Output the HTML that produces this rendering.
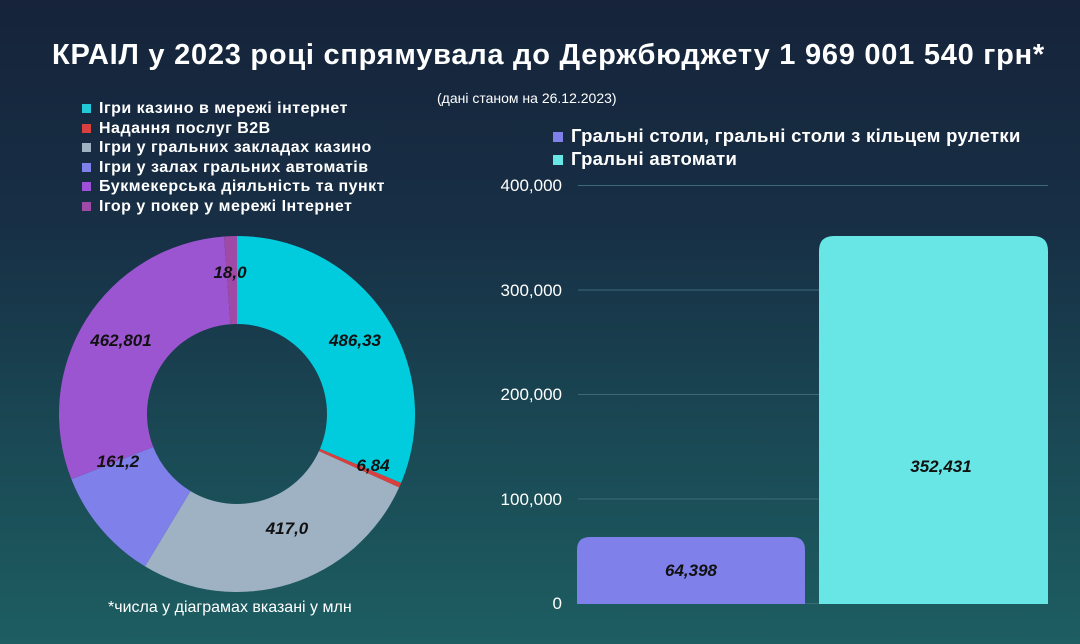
<!DOCTYPE html>
<html><head><meta charset="utf-8"><style>
html,body{margin:0;padding:0}
body{width:1080px;height:644px;overflow:hidden;position:relative;font-family:"Liberation Sans","DejaVu Sans",sans-serif;color:#fff;
background:linear-gradient(180deg,#16233a 0%,#172f45 35%,#1a4a55 70%,#1d5e62 100%);}
.t{position:absolute;white-space:nowrap}
.leg{position:absolute;left:82px;top:99px;font-size:16px;font-weight:bold;line-height:19.5px;letter-spacing:0.5px}
.leg div{display:flex;align-items:center}
.leg span{display:inline-block;width:9px;height:9px;margin-right:8px}
.lbl{font-family:"Liberation Sans Narrow","Liberation Sans",sans-serif;font-style:italic;font-weight:bold;fill:#111;font-size:17px}
</style></head><body>
<div class="t" style="left:52px;top:39px;font-size:29px;font-weight:bold;letter-spacing:0.75px">КРАІЛ у 2023 році спрямувала до Держбюджету 1 969 001 540 грн*</div>
<div class="t" style="left:437px;top:90px;font-size:14px">(дані станом на 26.12.2023)</div>
<div class="leg">
<div><span style="background:#22c8d8"></span>Ігри казино в мережі інтернет</div>
<div><span style="background:#d84040"></span>Надання послуг B2B</div>
<div><span style="background:#9fb2c4"></span>Ігри у гральних закладах казино</div>
<div><span style="background:#7f80ea"></span>Ігри у залах гральних автоматів</div>
<div><span style="background:#a050d8"></span>Букмекерська діяльність та пункт</div>
<div><span style="background:#a04aa8"></span>Ігор у покер у мережі Інтернет</div>
</div>
<div class="t" style="left:108px;top:599px;font-size:16px">*числа у діаграмах вказані у млн</div>
<div class="t" style="left:553px;top:124px;font-size:18.5px;font-weight:bold;line-height:23px;letter-spacing:0.3px">
<div><span style="display:inline-block;width:10px;height:10px;background:#7f80ea;margin-right:8px"></span>Гральні столи, гральні столи з кільцем рулетки</div>
<div><span style="display:inline-block;width:10px;height:10px;background:#68e6e6;margin-right:8px"></span>Гральні автомати</div>
</div>
<svg width="1080" height="644" style="position:absolute;left:0;top:0">
<g id="donut"></g>
<g stroke="#3e6a78" stroke-width="1">
<line x1="578" x2="1048" y1="185.5" y2="185.5"/>
<line x1="578" x2="1048" y1="290" y2="290"/>
<line x1="578" x2="1048" y1="394.5" y2="394.5"/>
<line x1="578" x2="1048" y1="499" y2="499"/>
<line x1="578" x2="1048" y1="603.5" y2="603.5"/>
</g>
<g fill="#fff" font-size="17" text-anchor="end" font-family="Liberation Sans,sans-serif">
<text x="562" y="191">400,000</text>
<text x="562" y="296">300,000</text>
<text x="562" y="400">200,000</text>
<text x="562" y="505">100,000</text>
<text x="562" y="609">0</text>
</g>
<path d="M577,604 V550 Q577,537 590,537 H792 Q805,537 805,550 V604 Z" fill="#7f80ea"/>
<path d="M819,604 V251 Q819,236 834,236 H1033 Q1048,236 1048,251 V604 Z" fill="#68e6e6"/>
<text class="lbl" x="691" y="576" text-anchor="middle">64,398</text>
<text class="lbl" x="941" y="472" text-anchor="middle">352,431</text>
<text class="lbl" x="355" y="346" text-anchor="middle">486,33</text>
<text class="lbl" x="373" y="471" text-anchor="middle">6,84</text>
<text class="lbl" x="287" y="534" text-anchor="middle">417,0</text>
<text class="lbl" x="118" y="467" text-anchor="middle">161,2</text>
<text class="lbl" x="121" y="346" text-anchor="middle">462,801</text>
<text class="lbl" x="230" y="278" text-anchor="middle">18,0</text>
</svg>
<script>
var v=[486.33,6.84,417.0,161.2,462.801,18.0],c=["#00ccdd","#d84040","#9fb2c4","#7f80ea","#9b55d0","#a04aa8"];
var cx=237,cy=414,R=178,r=90,s=0,t=v.reduce((a,b)=>a+b),g=document.getElementById("donut"),h="";
function p(a,rr){return [cx+rr*Math.sin(a),cy-rr*Math.cos(a)];}
v.forEach(function(x,i){var a0=s/t*2*Math.PI;s+=x;var a1=s/t*2*Math.PI,l=(a1-a0)>Math.PI?1:0;
var A=p(a0,R),B=p(a1,R),C=p(a1,r),D=p(a0,r);
h+='<path fill="'+c[i]+'" d="M'+A+' A'+R+','+R+' 0 '+l+' 1 '+B+' L'+C+' A'+r+','+r+' 0 '+l+' 0 '+D+' Z"/>';});
g.innerHTML=h;
</script>
</body></html>
